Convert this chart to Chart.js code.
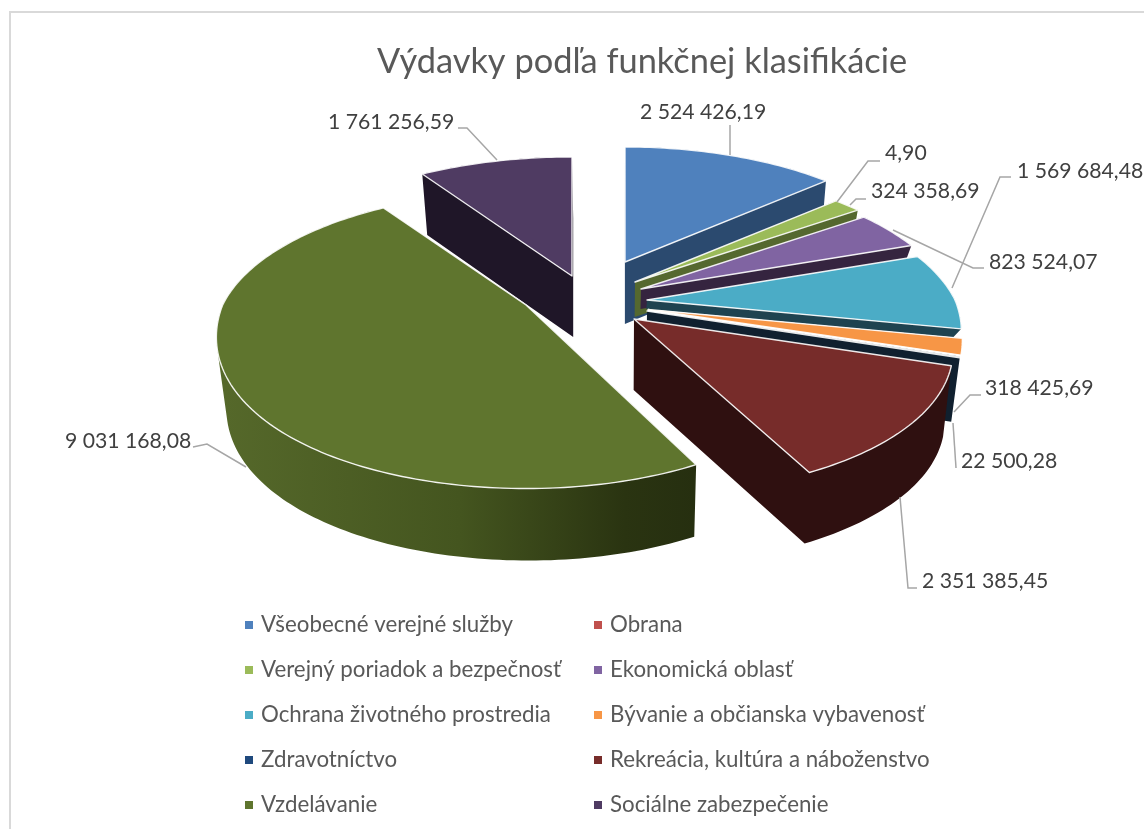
<!DOCTYPE html>
<html><head><meta charset="utf-8">
<style>html,body{margin:0;padding:0;background:#fff;overflow:hidden}#wrap{width:1144px;height:829px;position:relative}canvas{display:block}</style>
<script src="https://cdn.jsdelivr.net/npm/chart.js@4"></script>
</head><body><div id="wrap"><canvas id="c" width="1144" height="829"></canvas></div>
<script>
const categories = ['Všeobecné verejné služby','Obrana','Verejný poriadok a bezpečnosť','Ekonomická oblasť','Ochrana životného prostredia','Bývanie a občianska vybavenosť','Zdravotníctvo','Rekreácia, kultúra a náboženstvo','Vzdelávanie','Sociálne zabezpečenie'];
const values = [2524426.19,4.90,324358.69,823524.07,1569684.48,318425.69,22500.28,2351385.45,9031168.08,1761256.59];
const valueLabels = ['2 524 426,19','4,90','324 358,69','823 524,07','1 569 684,48','318 425,69','22 500,28','2 351 385,45','9 031 168,08','1 761 256,59'];
const legendColors = ['#4f81bd','#c0504d','#9bbb59','#8064a2','#4bacc6','#f79646','#1f497d','#772c2a','#5f752e','#4f3b62'];
const topColors = ['#4f81bd','#c0504d','#9bbb59','#8064a2','#4bacc6','#f79646','#10202f','#772c2a','#5f752e','#4f3b62'];
const wallColors = ['#2b4a6f','#6b2a28','#55682f','#35243f','#1f4350','#ffffff','#10202f','#2f1010','#3a4a1c','#1f1628'];

// Presentation of the exploded 3-D pie
const sliceOrigin = [[625,262],[635,282],[635,282],[641,289],[647,300],[648,309.5],[647,311],[634,319],[526,305],[572,276]];
const sliceDepth = [62,35,35,20,9,8,64,71,72,61];
const sliceScale = [1,1,1,1,1,1,1,1.015,0.985,1.035];
const sliceFrontRy = [150,150,150,150,150,150,150,150,156,150];
const paintOrder = [9,0,1,2,3,4,5,6,7,8];
const labelLayout = [[640,112],[885,153],[871,191],[989,262],[1017,171],[985,388],[961,461],[922,581],[65,441],[328,122]];
const leaderPaths = [
 [[730,155],[730,125]],
 [[837,202],[868,161],[880,161]],
 [[850,205],[856,199],[866,199]],
 [[893,230],[973,268],[984,268]],
 [[952,288],[1000,177],[1011,177]],
 [[954,412],[970,395],[981,395]],
 [[953,423],[956,468]],
 [[900,497],[908,588],[917,588]],
 [[193,447],[207,444],[246,467]],
 [[497,160],[467,128],[458,128]]
];
const legendOrigin = [245,625], legendCols = [0,349], legendRow = 45;
const R = 308, RyBack = 140.8, kBack = 0.224, kFrontX = 0.2, kFrontY = 0.15, vanishX = 620, bottomScale = 0.975;

function proj(i, th, bottom){
  const [ax,ay] = sliceOrigin[i], k = sliceScale[i];
  const X = Math.sin(th), Y = Math.cos(th);
  const sx = 1/(1+(Y>0?kBack:kFrontX)*Y);
  const dy = Y>0 ? k*RyBack*Y/(1+kBack*Y) : sliceFrontRy[i]*Y/(1+kFrontY*Y);
  let x = ax + k*R*X*sx, y = ay - dy;
  if(bottom){ x = vanishX + (x-vanishX)*bottomScale; y += sliceDepth[i]; }
  return [x,y];
}
function origin(i, bottom){
  const [ax,ay] = sliceOrigin[i];
  return bottom ? [vanishX+(ax-vanishX)*bottomScale, ay+sliceDepth[i]] : [ax,ay];
}
function addPoly(ctx, pts){
  let area = 0;
  pts.forEach((p,j)=>{ const q = pts[(j+1)%pts.length]; area += p[0]*q[1]-q[0]*p[1]; });
  const list = area<0 ? pts.slice().reverse() : pts;
  list.forEach((p,j)=> j?ctx.lineTo(p[0],p[1]):ctx.moveTo(p[0],p[1]));
  ctx.closePath();
}

const pie3d = {
  id:'pie3d',
  afterLayout(chart){
    const t = chart.titleBlock; t.left = 10; t.right = 1274;
  },
  beforeDraw(chart){
    const ctx = chart.ctx;
    ctx.save();
    ctx.strokeStyle='#d9d9d9'; ctx.lineWidth=2;
    ctx.beginPath(); ctx.moveTo(10,829); ctx.lineTo(10,12); ctx.lineTo(1144,12); ctx.stroke();
    ctx.restore();
  },
  beforeDatasetDraw(chart, args){
    const ctx = chart.ctx, arcs = chart.getDatasetMeta(args.index).data;
    ctx.save();
    paintOrder.forEach(i=>{
      const a = arcs[i];
      const s = a.startAngle+Math.PI/2, e = a.endAngle+Math.PI/2;
      if(e-s < 1e-4) return;
      const n = Math.max(2,Math.ceil((e-s)/0.02));
      const topArc=[], botArc=[];
      for(let j=0;j<=n;j++){ const t=s+(e-s)*j/n; topArc.push(proj(i,t,false)); botArc.push(proj(i,t,true)); }
      const o0=origin(i,false), o1=origin(i,true);
      let wall = wallColors[i];
      if(i===8){
        const g = ctx.createLinearGradient(225,0,695,0);
        g.addColorStop(0,'#55682a'); g.addColorStop(0.5,'#44551f'); g.addColorStop(0.85,'#2a3411'); g.addColorStop(1,'#262f10');
        wall = g;
      }
      ctx.fillStyle = wall;
      ctx.beginPath();
      addPoly(ctx,[o0,topArc[0],botArc[0],o1]);
      addPoly(ctx,[o0,topArc[n],botArc[n],o1]);
      for(let j=0;j<n;j++) addPoly(ctx,[topArc[j],topArc[j+1],botArc[j+1],botArc[j]]);
      ctx.fill();
      ctx.beginPath();
      addPoly(ctx,[o0].concat(topArc));
      ctx.fillStyle = topColors[i]; ctx.fill();
      ctx.strokeStyle='rgba(255,255,255,0.9)'; ctx.lineWidth=1.4; ctx.lineJoin='round'; ctx.stroke();
    });
    ctx.restore();
    return false;
  },
  afterDatasetsDraw(chart){
    const ctx = chart.ctx;
    ctx.save();
    ctx.strokeStyle='#a6a6a6'; ctx.lineWidth=1.5;
    leaderPaths.forEach(p=>{ ctx.beginPath(); p.forEach((q,j)=> j?ctx.lineTo(q[0],q[1]):ctx.moveTo(q[0],q[1])); ctx.stroke(); });
    ctx.fillStyle='#404040'; ctx.font='21.2px Lato'; ctx.textBaseline='middle'; ctx.textAlign='left';
    valueLabels.forEach((t,i)=> ctx.fillText(t,labelLayout[i][0],labelLayout[i][1]));
    ctx.font='22.3px Lato';
    categories.forEach((t,i)=>{
      const col = i%2, row = Math.floor(i/2);
      const x = legendOrigin[0]+legendCols[col], y = legendOrigin[1]+row*legendRow;
      ctx.fillStyle = legendColors[i]; ctx.fillRect(x,y-4,8,8);
      ctx.fillStyle='#595959'; ctx.fillText(t,x+16,y);
    });
    ctx.restore();
  }
};

new Chart(document.getElementById('c'),{
  type:'pie',
  data:{labels:categories,datasets:[{data:values,backgroundColor:topColors,borderWidth:0}]},
  options:{
    responsive:false, animation:false, rotation:0,
    devicePixelRatio:1,
    plugins:{
      legend:{display:false},
      tooltip:{enabled:false},
      title:{display:true,text:'Výdavky podľa funkčnej klasifikácie',color:'#595959',font:{family:'Lato',size:34.4,weight:'normal'},padding:{top:41,bottom:10}}
    }
  },
  plugins:[pie3d]
});
</script>
</body></html>
